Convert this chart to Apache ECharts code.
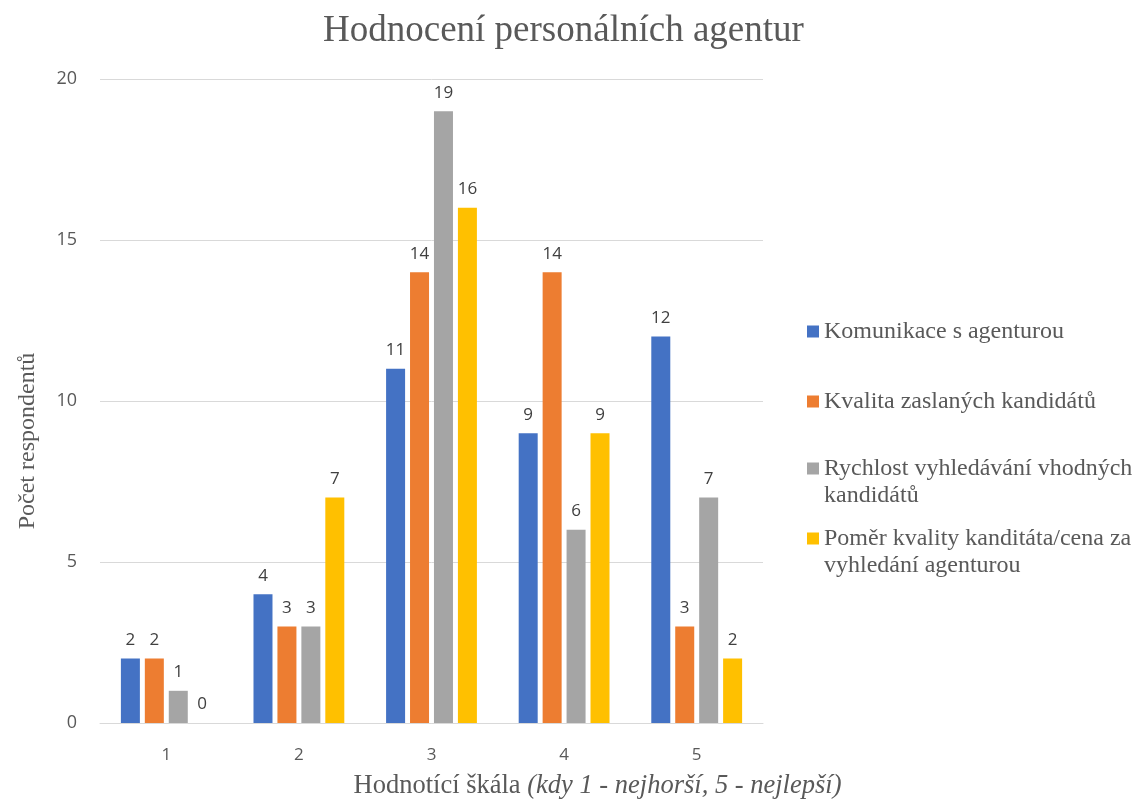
<!DOCTYPE html>
<html><head><meta charset="utf-8">
<script src="https://cdn.jsdelivr.net/npm/echarts@6/dist/echarts.min.js"></script>
<style>html,body{margin:0;padding:0;background:#fff}#c{width:1133px;height:805px}</style>
</head><body><div id="c"></div>
<script>
const categories = ['1','2','3','4','5'];
const seriesNames = ['Komunikace s agenturou','Kvalita zaslaných kandidátů','Rychlost vyhledávání vhodných kandidátů','Poměr kvality kanditáta/cena za vyhledání agenturou'];
const komunikace = [2,4,11,9,12];
const kvalita = [2,3,14,14,3];
const rychlost = [1,3,19,6,7];
const pomer = [0,7,16,9,2];
const colors = ['#4472C4','#ED7D31','#A5A5A5','#FFC000'];
const legendLabels = {
  'Komunikace s agenturou':'Komunikace s agenturou',
  'Kvalita zaslaných kandidátů':'Kvalita zaslaných kandidátů',
  'Rychlost vyhledávání vhodných kandidátů':'\nRychlost vyhledávání vhodných\nkandidátů',
  'Poměr kvality kanditáta/cena za vyhledání agenturou':'\nPoměr kvality kanditáta/cena za\nvyhledání agenturou'
};
const values = [komunikace,kvalita,rychlost,pomer];
const legendTops = [313, 383, 423, 493];

const serif = '"Liberation Serif","Times New Roman",serif';
const sans = '"Open Sans","Segoe UI",sans-serif';

const chart = echarts.init(document.getElementById('c'));
chart.setOption({
  animation:false,
  color: colors,
  title:{text:'Hodnocení personálních agentur',left:318,top:8,
    textStyle:{fontFamily:serif,fontSize:37,fontWeight:'normal',color:'#595959'}},
  legend: seriesNames.map((n,i)=>({
    orient:'vertical',left:802,top:legendTops[i],data:[n],
    itemWidth:12,itemHeight:12,icon:'rect',itemGap:0,
    formatter:(name)=>legendLabels[name],
    textStyle:{fontFamily:serif,fontSize:24,color:'#595959',lineHeight:27}
  })),
  grid:{left:100,right:370,top:79,bottom:78},
  xAxis:{type:'category',data:categories,
    axisLine:{lineStyle:{color:'#D9D9D9',width:1}},axisTick:{show:false},
    axisLabel:{fontFamily:sans,fontSize:17,color:'#595959',margin:24},
    name:'{n|Hodnotící škála }{i|(kdy 1 - nejhorší, 5 - nejlepší)}',
    nameLocation:'middle',nameGap:50,
    nameTextStyle:{padding:[0,0,0,332],
      rich:{n:{fontFamily:serif,fontSize:26.5,color:'#595959'},
            i:{fontFamily:serif,fontSize:26.5,color:'#595959',fontStyle:'italic'}}}
  },
  yAxis:{type:'value',min:0,max:20,interval:5,
    axisLine:{show:false},axisTick:{show:false},
    splitLine:{lineStyle:{color:'#D9D9D9',width:1}},
    axisLabel:{fontFamily:sans,fontSize:18,color:'#595959',margin:23},
    name:'Počet respondentů',nameLocation:'middle',nameGap:60,nameRotate:90,
    nameTextStyle:{fontFamily:serif,fontSize:24,color:'#595959',padding:[0,80,0,0]}
  },
  series: seriesNames.map((n,i)=>({
    name:n,type:'bar',data:values[i],barWidth:19,barGap:'26%',
    label:{show:true,position:'top',distance:10,fontFamily:sans,fontSize:17,color:'#404040'}
  }))
});
</script></body></html>
